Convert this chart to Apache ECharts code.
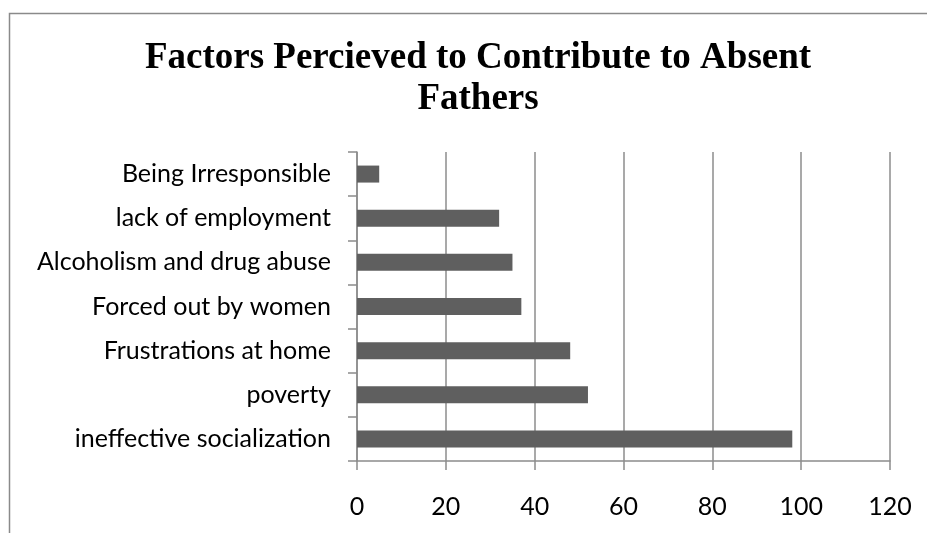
<!DOCTYPE html>
<html>
<head>
<meta charset="utf-8">
<script src="https://cdn.jsdelivr.net/npm/echarts@6/dist/echarts.min.js"></script>
<style>
  html, body { margin: 0; padding: 0; background: #fff; }
  #chart { width: 927px; height: 533px; }
</style>
</head>
<body>
<div id="chart"></div>
<script>
// Survey responses: factors perceived to contribute to absent fathers
const categories = [
  'ineffective socialization',
  'poverty',
  'Frustrations at home',
  'Forced out by women',
  'Alcoholism and drug abuse',
  'lack of employment',
  'Being Irresponsible'
];
const responses = [98, 52, 48, 37, 35, 32, 5];
const xTicks = [0, 20, 40, 60, 80, 100, 120];

const titleText = 'Factors Percieved to Contribute to Absent\nFathers';

const chart = echarts.init(document.getElementById('chart'), null, { renderer: 'canvas' });
const axisGray = '#8c8c8c';
const labelFont = 'Lato, "Open Sans", sans-serif';

chart.setOption({
  backgroundColor: '#ffffff',
  animation: false,
  title: {
    text: titleText,
    left: 478,
    top: 38,
    padding: 0,
    textAlign: 'center',
    textStyle: {
      fontFamily: '"Liberation Serif", "Times New Roman", serif',
      fontWeight: 'bold',
      fontSize: 37,
      lineHeight: 41,
      color: '#000'
    }
  },
  graphic: [{
    type: 'polyline',
    shape: { points: [[9.5, 540], [9.5, 13.5], [940, 13.5]] },
    style: { stroke: '#8a8a8a', lineWidth: 1.5, fill: null },
    silent: true
  }],
  grid: { left: 357, right: 37, top: 152, bottom: 72, containLabel: false },
  xAxis: {
    type: 'value',
    min: xTicks[0],
    max: xTicks[xTicks.length - 1],
    interval: 20,
    axisLine: { show: true, lineStyle: { color: axisGray, width: 1.5 } },
    axisTick: { show: true, length: 9, inside: false, lineStyle: { color: axisGray, width: 1.5 } },
    splitLine: { show: true, lineStyle: { color: axisGray, width: 1.5 } },
    axisLabel: {
      margin: 33,
      fontFamily: labelFont,
      fontSize: 25,
      color: '#000'
    }
  },
  yAxis: {
    type: 'category',
    data: categories,
    axisLine: { show: true, lineStyle: { color: axisGray, width: 1.5 } },
    axisTick: { show: true, length: 9, alignWithLabel: false, lineStyle: { color: axisGray, width: 1.5 } },
    splitLine: { show: false },
    axisLabel: {
      margin: 26,
      fontFamily: labelFont,
      fontSize: 25,
      color: '#000'
    }
  },
  series: [{
    type: 'bar',
    data: responses,
    barWidth: 17,
    itemStyle: { color: '#5f5f5f' }
  }]
});
</script>
</body>
</html>
